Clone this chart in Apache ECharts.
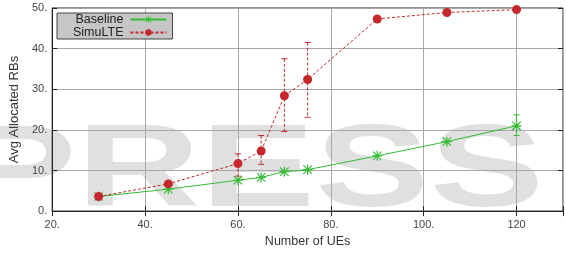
<!DOCTYPE html>
<html>
<head>
<meta charset="utf-8">
<script src="https://cdn.jsdelivr.net/npm/echarts@6/dist/echarts.min.js"></script>
<style>
  html, body { margin: 0; padding: 0; background: #fff; }
  #chart { width: 566px; height: 253px; }
</style>
</head>
<body>
<div id="chart"></div>
<script>
// 数据
var ues = [30, 45, 60, 65, 70, 75, 90, 105, 120];
var baseline = [3.6, 5.4, 7.6, 8.3, 9.7, 10.2, 13.6, 17.1, 21.0];
var simulte = [3.6, 6.7, 11.7, 14.8, 28.4, 32.4, 47.3, 48.9, 49.6];
// 误差线 (x, 下限, 上限)
var simulteErr = [[60, 8.6, 14.1], [65, 11.5, 18.6], [70, 19.6, 37.5], [75, 23.1, 41.5]];
var baselineErr = [[120, 18.6, 23.7]];
var xTicks = {20: '20.', 40: '40.', 60: '60.', 80: '80.', 100: '100.', 120: '120'};
var yTicks = {0: '0.', 10: '10.', 20: '20.', 30: '30.', 40: '40.', 50: '50.'};

var green = '#33bb33';
var red = '#c4282c';
var font = 'Liberation Sans';
var star = 'path://M4.4,0h1.2v10h-1.2z M0,4.4h10v1.2h-10z M1.2,0.4L9.6,8.8L8.8,9.6L0.4,1.2z M8.8,0.4L9.6,1.2L1.2,9.6L0.4,8.8z';

function pairs(xs, ys) {
    var out = [];
    for (var i = 0; i < xs.length; i++) out.push([xs[i], ys[i]]);
    return out;
}

// 误差线绘制
function errRender(color, dashed) {
    return function (params, api) {
        var top = api.coord([api.value(0), api.value(2)]);
        var bot = api.coord([api.value(0), api.value(1)]);
        var st = { stroke: color, lineWidth: 1, lineDash: dashed ? [3, 2] : null };
        return {
            type: 'group',
            children: [
                { type: 'line', shape: { x1: top[0], y1: top[1], x2: bot[0], y2: bot[1] }, style: st },
                { type: 'line', shape: { x1: top[0] - 3, y1: top[1], x2: top[0] + 3, y2: top[1] }, style: { stroke: color, lineWidth: 1 } },
                { type: 'line', shape: { x1: bot[0] - 3, y1: bot[1], x2: bot[0] + 3, y2: bot[1] }, style: { stroke: color, lineWidth: 1 } }
            ]
        };
    };
}

var chart = echarts.init(document.getElementById('chart'));
var option = {
    animation: false,
    textStyle: { fontFamily: font },
    graphic: [
        {
            type: 'text', left: -38, top: 116, z: -10, silent: true,
            scaleX: 1.48,
            style: { text: 'PRESS', font: 'bold 116px "Liberation Sans"', fill: 'rgba(0,0,0,0.12)' }
        }
    ],
    grid: { left: 52, top: 8, right: 1, bottom: 40, show: true, borderColor: '#222', borderWidth: 1 },
    legend: {
        left: 57, top: 13,
        orient: 'vertical',
        align: 'right',
        itemWidth: 36, itemHeight: 8, itemGap: 0,
        padding: [0, 5, 0, 16],
        backgroundColor: '#c6c6c6',
        borderColor: '#444', borderWidth: 1,
        textStyle: { fontSize: 12.5, color: '#222', fontFamily: font, padding: [0, 2, 0, 0] },
        data: ['Baseline', 'SimuLTE']
    },
    xAxis: [{
        type: 'value', min: 20, max: 130, interval: 20,
        name: 'Number of UEs', nameLocation: 'middle', nameGap: 23,
        nameTextStyle: { fontSize: 12.5, color: '#333' },
        axisLine: { lineStyle: { color: '#222' } },
        axisTick: { inside: true, length: 5, lineStyle: { color: '#222' } },
        axisLabel: { fontSize: 11, color: '#444', margin: 8, formatter: function (v) { return xTicks[v] || ''; } },
        splitLine: { lineStyle: { color: '#a8a8a8' } }
    }, {
        type: 'value', min: 20, max: 130, interval: 20, position: 'top',
        axisLine: { show: false },
        axisTick: { inside: true, length: 5, lineStyle: { color: '#222' } },
        axisLabel: { show: false }, splitLine: { show: false }
    }],
    yAxis: [{
        type: 'value', min: 0, max: 50, interval: 10,
        name: 'Avg Allocated RBs', nameLocation: 'middle', nameGap: 21,
        nameTextStyle: { fontSize: 13, color: '#333' },
        axisLine: { show: true, lineStyle: { color: '#222' } },
        axisTick: { show: true, inside: true, length: 5, lineStyle: { color: '#222' } },
        axisLabel: { fontSize: 11, color: '#444', margin: 5, formatter: function (v) { return yTicks[v] || ''; } },
        splitLine: { lineStyle: { color: '#a8a8a8' } }
    }, {
        type: 'value', min: 0, max: 50, interval: 10, position: 'right',
        axisLine: { show: false },
        axisTick: { show: true, inside: true, length: 5, lineStyle: { color: '#222' } },
        axisLabel: { show: false }, splitLine: { show: false }
    }],
    series: [
        {
            name: 'Baseline', type: 'line', data: pairs(ues, baseline),
            symbol: star, symbolSize: 10,
            itemStyle: { color: green },
            lineStyle: { color: green, width: 1 },
            z: 3
        },
        {
            name: 'SimuLTE', type: 'line', data: pairs(ues, simulte),
            symbol: 'circle', symbolSize: 9,
            itemStyle: { color: red },
            lineStyle: { color: red, width: 1, type: [3, 2] },
            z: 4
        },
        {
            type: 'custom', data: simulteErr, renderItem: errRender(red, true),
            encode: { x: 0, y: [1, 2] }, z: 2, silent: true
        },
        {
            type: 'custom', data: baselineErr, renderItem: errRender(green, false),
            encode: { x: 0, y: [1, 2] }, z: 2, silent: true
        }
    ]
};
chart.setOption(option);
</script>
</body>
</html>
